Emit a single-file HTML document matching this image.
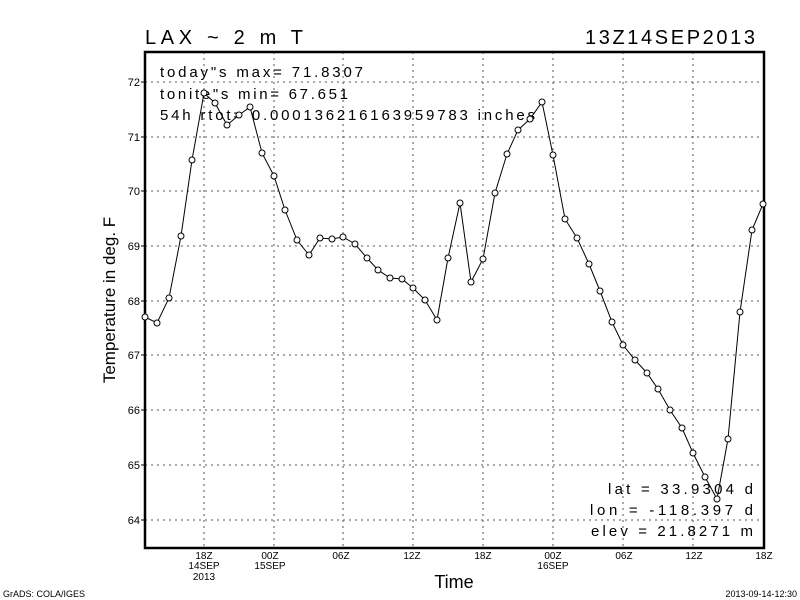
<!DOCTYPE html>
<html><head><meta charset="utf-8"><style>
html,body{margin:0;padding:0;background:#fff;}
svg{display:block;}
text{font-family:"Liberation Sans",sans-serif;fill:#000;}
</style></head><body>
<svg width="800" height="600" viewBox="0 0 800 600" xmlns="http://www.w3.org/2000/svg">
<g stroke="#555" stroke-width="1" stroke-dasharray="2,4">
<line x1="145" y1="82" x2="764" y2="82"/><line x1="145" y1="137" x2="764" y2="137"/>
<line x1="145" y1="191" x2="764" y2="191"/><line x1="145" y1="246" x2="764" y2="246"/>
<line x1="145" y1="301" x2="764" y2="301"/><line x1="145" y1="355" x2="764" y2="355"/>
<line x1="145" y1="410" x2="764" y2="410"/><line x1="145" y1="465" x2="764" y2="465"/>
<line x1="145" y1="520" x2="764" y2="520"/>
<line x1="204" y1="52" x2="204" y2="548"/><line x1="274" y1="52" x2="274" y2="548"/>
<line x1="343" y1="52" x2="343" y2="548"/><line x1="413" y1="52" x2="413" y2="548"/>
<line x1="483" y1="52" x2="483" y2="548"/><line x1="553" y1="52" x2="553" y2="548"/>
<line x1="623" y1="52" x2="623" y2="548"/><line x1="693" y1="52" x2="693" y2="548"/>
</g>
<rect x="145" y="52" width="619" height="496" fill="none" stroke="#000" stroke-width="2.5"/>
<g font-size="11" text-anchor="end">
<text x="140" y="86">72</text><text x="140" y="141">71</text><text x="140" y="195">70</text>
<text x="140" y="250">69</text><text x="140" y="305">68</text><text x="140" y="359">67</text>
<text x="140" y="414">66</text><text x="140" y="469">65</text><text x="140" y="524">64</text>
</g>
<g stroke="#000"><line x1="141" y1="82" x2="145" y2="82"/><line x1="141" y1="137" x2="145" y2="137"/><line x1="141" y1="191" x2="145" y2="191"/><line x1="141" y1="246" x2="145" y2="246"/><line x1="141" y1="301" x2="145" y2="301"/><line x1="141" y1="355" x2="145" y2="355"/><line x1="141" y1="410" x2="145" y2="410"/><line x1="141" y1="465" x2="145" y2="465"/><line x1="141" y1="520" x2="145" y2="520"/></g>
<g font-size="10" text-anchor="middle">
<text x="204" y="559">18Z</text><text x="204" y="569">14SEP</text><text x="204" y="580">2013</text>
<text x="270" y="559">00Z</text><text x="270" y="569">15SEP</text>
<text x="341" y="559">06Z</text><text x="412" y="559">12Z</text><text x="483" y="559">18Z</text>
<text x="553" y="559">00Z</text><text x="553" y="569">16SEP</text>
<text x="624" y="559">06Z</text><text x="694" y="559">12Z</text><text x="764" y="559">18Z</text>
</g>
<text x="454" y="588" font-size="18" text-anchor="middle">Time</text>
<text transform="translate(115,300) rotate(-90)" font-size="17" text-anchor="middle">Temperature in deg. F</text>
<text x="145" y="44" font-size="20" textLength="158" lengthAdjust="spacing">LAX ~ 2 m T</text>
<text x="585" y="44" font-size="20" textLength="170" lengthAdjust="spacing">13Z14SEP2013</text>
<g font-size="15">
<text x="160" y="77" textLength="203" lengthAdjust="spacing">today"s max= 71.8307</text>
<text x="160" y="99" textLength="188" lengthAdjust="spacing">tonite"s min= 67.651</text>
<text x="160" y="120" textLength="375" lengthAdjust="spacing">54h rtot= 0.000136216163959783 inches</text>
</g>
<g font-size="15">
<text x="608" y="494" textLength="145" lengthAdjust="spacing">lat = 33.9304 d</text>
<text x="590" y="515" textLength="163" lengthAdjust="spacing">lon = -118.397 d</text>
<text x="591" y="536" textLength="162" lengthAdjust="spacing">elev = 21.8271 m</text>
</g>
<text x="3" y="597" font-size="9">GrADS: COLA/IGES</text>
<text x="797" y="597" font-size="9" text-anchor="end">2013-09-14-12:30</text>
<polyline fill="none" stroke="#000" stroke-width="1" points="145,317 157,323 169,298 181,236 192,160 204,93 215,103 227,125 239,115 250,107 262,153 274,176 285,210 297,240 309,255 320,238 332,239 343,237 355,244 367,258 378,270 390,278 402,279 413,288 425,300 437,320 448,258 460,203 471,282 483,259 495,193 507,154 518,130 530,119 542,102 553,155 565,219 577,238 589,264 600,291 612,322 623,345 635,360 647,373 658,389 670,410 682,428 693,453 705,477 717,499 728,439 740,312 752,230 763,204"/>
<g fill="#fff" stroke="#000" stroke-width="1">
<circle cx="145" cy="317" r="3"/><circle cx="157" cy="323" r="3"/><circle cx="169" cy="298" r="3"/><circle cx="181" cy="236" r="3"/><circle cx="192" cy="160" r="3"/><circle cx="204" cy="93" r="3"/><circle cx="215" cy="103" r="3"/><circle cx="227" cy="125" r="3"/><circle cx="239" cy="115" r="3"/><circle cx="250" cy="107" r="3"/><circle cx="262" cy="153" r="3"/><circle cx="274" cy="176" r="3"/><circle cx="285" cy="210" r="3"/><circle cx="297" cy="240" r="3"/><circle cx="309" cy="255" r="3"/><circle cx="320" cy="238" r="3"/><circle cx="332" cy="239" r="3"/><circle cx="343" cy="237" r="3"/><circle cx="355" cy="244" r="3"/><circle cx="367" cy="258" r="3"/><circle cx="378" cy="270" r="3"/><circle cx="390" cy="278" r="3"/><circle cx="402" cy="279" r="3"/><circle cx="413" cy="288" r="3"/><circle cx="425" cy="300" r="3"/><circle cx="437" cy="320" r="3"/><circle cx="448" cy="258" r="3"/><circle cx="460" cy="203" r="3"/><circle cx="471" cy="282" r="3"/><circle cx="483" cy="259" r="3"/><circle cx="495" cy="193" r="3"/><circle cx="507" cy="154" r="3"/><circle cx="518" cy="130" r="3"/><circle cx="530" cy="119" r="3"/><circle cx="542" cy="102" r="3"/><circle cx="553" cy="155" r="3"/><circle cx="565" cy="219" r="3"/><circle cx="577" cy="238" r="3"/><circle cx="589" cy="264" r="3"/><circle cx="600" cy="291" r="3"/><circle cx="612" cy="322" r="3"/><circle cx="623" cy="345" r="3"/><circle cx="635" cy="360" r="3"/><circle cx="647" cy="373" r="3"/><circle cx="658" cy="389" r="3"/><circle cx="670" cy="410" r="3"/><circle cx="682" cy="428" r="3"/><circle cx="693" cy="453" r="3"/><circle cx="705" cy="477" r="3"/><circle cx="717" cy="499" r="3"/><circle cx="728" cy="439" r="3"/><circle cx="740" cy="312" r="3"/><circle cx="752" cy="230" r="3"/><circle cx="763" cy="204" r="3"/>
</g>
</svg>
</body></html>
